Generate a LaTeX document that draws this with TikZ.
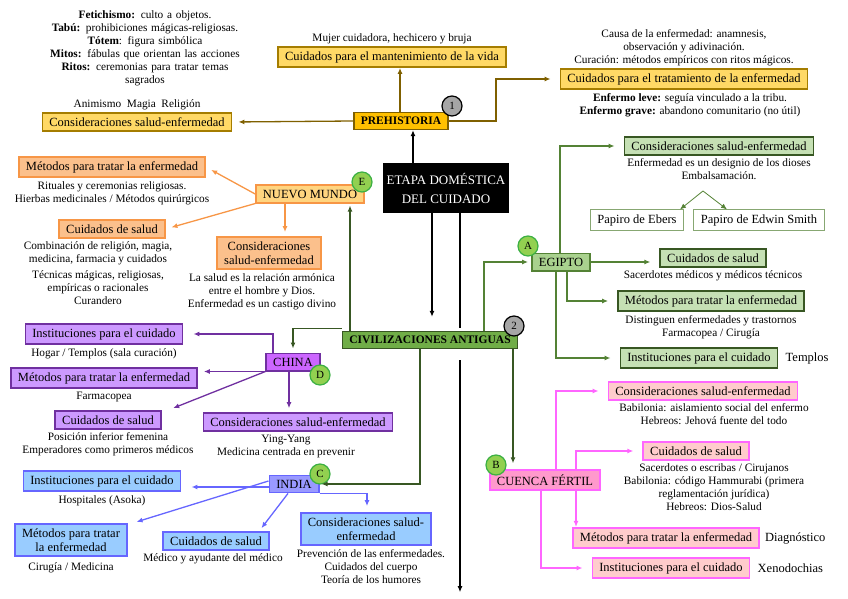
\documentclass[tikz,border=0pt]{standalone}
\usepackage{fontspec}
\setmainfont{Liberation Serif}
\usetikzlibrary{positioning,arrows.meta,calc}
\definecolor{preD}{HTML}{7F6000}
\definecolor{preF}{HTML}{FFC000}
\definecolor{preL}{HTML}{FFD966}
\definecolor{civD}{HTML}{385723}
\definecolor{civF}{HTML}{70AD47}
\definecolor{egF}{HTML}{C5E0B4}
\definecolor{egM}{HTML}{A9D18E}
\definecolor{egB}{HTML}{548235}
\definecolor{nmB}{HTML}{F79646}
\definecolor{nmF}{HTML}{FFD580}
\definecolor{nmL}{HTML}{FBC08C}
\definecolor{chB}{HTML}{7030A0}
\definecolor{chF}{HTML}{CC66FF}
\definecolor{chL}{HTML}{CC99FF}
\definecolor{inB}{HTML}{6666FF}
\definecolor{inF}{HTML}{9999FF}
\definecolor{inL}{HTML}{99CCFF}
\definecolor{cuB}{HTML}{FF66FF}
\definecolor{cuF}{HTML}{FF99CC}
\definecolor{cuL}{HTML}{FFCCCC}
\definecolor{bdgF}{HTML}{92D050}
\definecolor{bdgD}{HTML}{3CB043}
\begin{document}
\begin{tikzpicture}[x=1pt,y=-1pt,
        box/.style={draw=#1, line width=1.6pt, inner xsep=7pt, inner ysep=4.5pt, font=\fontsize{12.5}{14.5}\selectfont, align=center},
        note/.style={font=\fontsize{11.3}{13}\selectfont, align=center, inner sep=1pt},
        badge/.style={circle, draw, line width=1.2pt, minimum size=20pt, inner sep=0pt, font=\fontsize{11}{11}\selectfont},
        gbadge/.style={badge, fill=bdgF, draw=bdgD},
        ar/.style={-{Latex[length=6pt,width=5pt]}, line width=1.3pt, draw=#1}]
    \useasboundingbox (0,0) rectangle (848,599);

    % centre
    \node [fill=black, text=white, align=center, minimum width=124pt, minimum height=50pt,
           font=\fontsize{13}{19}\selectfont] (etapa) at (446,188) {ETAPA DOMÉSTICA\\DEL CUIDADO};

    % prehistoria
    \node [box=preD, fill=preF, font=\fontsize{11.5}{13}\selectfont\bfseries] (pre) at (401,121) {PREHISTORIA};
    \node [badge, fill=gray!70] (b1) at (452,106) {1};
    \node [box=preD!70!preF, fill=preL] (mant) at (392,57) {Cuidados para el mantenimiento de la vida};
    \node [note, above=1pt of mant] (mantn) {Mujer cuidadora, hechicero y bruja};
    \node [box=preD!70!preF, fill=preL] (prec) at (137,122) {Consideraciones salud-enfermedad};
    \node [note, above=1pt of prec] (precn) {Animismo\ \ Magia\ \ Religión};
    \node [note, text width=240pt] (pret) at (145,48) {\textbf{Fetichismo:} culto a objetos.\\
        \textbf{Tabú:} prohibiciones mágicas-religiosas.\\ \textbf{Tótem}: figura simbólica\\
        \textbf{Mitos:} fábulas que orientan las acciones\\ \textbf{Ritos:} ceremonias para tratar temas\\ sagrados};
    \node [box=preD!70!preF, fill=preL] (trat) at (684,79) {Cuidados para el tratamiento de la enfermedad};
    \node [note, above=1pt of trat] (tratn) {Causa de la enfermedad: anamnesis,\\ observación y adivinación.\\
        Curación: métodos empíricos con ritos mágicos.};
    \node [note, below=2pt of trat, xshift=6pt] (tratm) {\textbf{Enfermo leve:} seguía vinculado a la tribu.\\
        \textbf{Enfermo grave:} abandono comunitario (no útil)};
    \draw [ar=preD] ([xshift=-1pt]pre.north) -- ([xshift=-1pt]pre.north |- mant.south);
    \draw [ar=preD, shorten >=6pt] (pre.west) -- (prec.east);
    \draw [ar=preD, shorten >=9pt] (pre.east) -- ++(47,0) |- (trat.west);
    \draw [ar=black] ([xshift=-33pt]etapa.north) -- ([xshift=-33pt]etapa.north |- pre.south);

    % civilizaciones
    \node [box=civD, fill=civF, font=\fontsize{11.5}{13}\selectfont\bfseries] (civ) at (430,340) {CIVILIZACIONES ANTIGUAS};
    \node [badge, fill=gray!70] (b2) at (514,326) {2};
    \draw [ar=black, shorten >=14pt] ([xshift=-14pt]etapa.south) -- ([xshift=-14pt]etapa.south |- civ.north);
    \draw [line width=1.3pt] ([xshift=14pt]etapa.south) -- ++(0,115);
    \draw [ar=black] ([xshift=14pt]etapa.south) ++(0,147) -- ++(0,232);

    % egipto
    \node [box=egB, fill=egM] (eg) at (561,262) {EGIPTO};
    \node [gbadge] (bA) at (528,246) {A};
    \node [box=civD, fill=egF] (egc) at (719,146) {Consideraciones salud-enfermedad};
    \node [note, below=2pt of egc] (egcn) {Enfermedad es un designio de los dioses\\ Embalsamación.};
    \node [box=egB!70, line width=0.8pt, fill=white] (ebers) at (637,220) {Papiro de Ebers};
    \node [box=egB!70, line width=0.8pt, fill=white] (edwin) at (759,220) {Papiro de Edwin Smith};
    \coordinate (egsp) at (703,191);
    \draw [ar=egB, line width=0.8pt] (egsp) -- ([xshift=-4pt]ebers.north east);
    \draw [ar=egB, line width=0.8pt] (egsp) -- ([xshift=-32pt]edwin.north);
    \node [box=civD, fill=egF] (egs) at (713,258) {Cuidados de salud};
    \node [note, below=2pt of egs] (egsn) {Sacerdotes médicos y médicos técnicos};
    \node [box=civD, fill=egF] (egm) at (711,301) {Métodos para tratar la enfermedad};
    \node [note, below=2pt of egm] (egmn) {Distinguen enfermedades y trastornos\\ Farmacopea / Cirugía};
    \node [box=civD, fill=egF] (egi) at (699,358) {Instituciones para el cuidado};
    \node [note, font=\fontsize{12.5}{14}\selectfont, right=6pt of egi] (egin) {Templos};
    \draw [ar=egB, shorten >=9pt] ([xshift=-1pt]eg.north) |- (egc.west);
    \draw [ar=egB, shorten >=9pt] (eg.east) -- (eg.east -| egs.west);
    \draw [ar=egB, shorten >=9pt] ([xshift=6pt]eg.south) |- (egm.west);
    \draw [ar=egB, shorten >=9pt] ([xshift=-5pt]eg.south) |- (egi.west);
    \draw [ar=egB, shorten >=3pt] ([xshift=54pt]civ.north) |- (eg.west);

    % cuenca fertil
    \node [box=cuB, fill=cuF] (cu) at (545,480) {CUENCA FÉRTIL};
    \node [gbadge] (bB) at (496,465) {B};
    \node [box=cuB, fill=cuL] (cuc) at (703,391) {Consideraciones salud-enfermedad};
    \node [note, below=2pt of cuc, xshift=11pt] (cucn) {Babilonia: aislamiento social del enfermo\\ Hebreos: Jehová fuente del todo};
    \node [box=cuB, fill=cuL] (cus) at (696,451) {Cuidados de salud};
    \node [note, below=2pt of cus, xshift=18pt] (cusn) {Sacerdotes o escribas / Cirujanos\\
        Babilonia: código Hammurabi (primera\\ reglamentación jurídica)\\ Hebreos: Dios-Salud};
    \node [box=cuB, fill=cuL] (cum) at (666,538) {Métodos para tratar la enfermedad};
    \node [note, font=\fontsize{12.5}{14}\selectfont, right=4pt of cum] (cumn) {Diagnóstico};
    \node [box=cuB, fill=cuL] (cui) at (671,568) {Instituciones para el cuidado};
    \node [note, font=\fontsize{12.5}{14}\selectfont, right=6pt of cui] (cuin) {Xenodochias};
    \draw [ar=cuB, shorten >=9pt] ([xshift=11pt]cu.north) |- (cuc.west);
    \draw [ar=cuB, shorten >=9pt] ([xshift=31pt]cu.north) |- (cus.west);
    \draw [ar=cuB] ([xshift=31pt]cu.south) -- ([xshift=31pt]cu.south |- cum.north);
    \draw [ar=cuB, shorten >=9pt] ([xshift=-4pt]cu.south) |- (cui.west);
    \draw [ar=civD, shorten >=6pt] ([xshift=83pt]civ.south) -- ([xshift=83pt]civ.south |- cu.north);

    % nuevo mundo
    \node [box=nmB, fill=nmF] (nm) at (310,194) {NUEVO MUNDO};
    \node [gbadge] (bE) at (362,182) {E};
    \node [box=nmB, fill=nmL] (nmm) at (112,167) {Métodos para tratar la enfermedad};
    \node [note, below=2pt of nmm] (nmmn) {Rituales y ceremonias religiosas.\\ Hierbas medicinales / Métodos quirúrgicos};
    \node [box=nmB, fill=nmL] (nms) at (112,229) {Cuidados de salud};
    \node [note, below=2pt of nms, xshift=-14pt] (nmsn) {Combinación de religión, magia,\\ medicina, farmacia y cuidados\\[3pt]
        Técnicas mágicas, religiosas,\\ empíricas o racionales\\ Curandero};
    \node [box=nmB, fill=nmL] (nmc) at (269,253) {Consideraciones\\ salud-enfermedad};
    \node [note, below=2pt of nmc, xshift=-7pt] (nmcn) {La salud es la relación armónica\\ entre el hombre y Dios.\\ Enfermedad es un castigo divino};
    \draw [ar=nmB, shorten >=6pt] (nm.west) -- (nmm.east);
    \draw [ar=nmB, shorten >=6pt] (nm.south west) -- (nms.east);
    \draw [ar=nmB, shorten >=4pt] ([xshift=-25pt]nm.south) -- ([xshift=-25pt]nm.south |- nmc.north);
    \draw [ar=civD, shorten >=2pt] ([xshift=-80pt]civ.north) -- ([xshift=-80pt]civ.north |- nm.south);

    % china
    \node [box=chB, fill=chF] (ch) at (293,362) {CHINA};
    \node [gbadge] (bD) at (320,375) {D};
    \node [box=chB, fill=chL] (chi) at (104,334) {Instituciones para el cuidado};
    \node [note, below=2pt of chi] (chin) {Hogar / Templos (sala curación)};
    \node [box=chB, fill=chL] (chm) at (104,378) {Métodos para tratar la enfermedad};
    \node [note, below=2pt of chm] (chmn) {Farmacopea};
    \node [box=chB, fill=chL] (chs) at (108,420) {Cuidados de salud};
    \node [note, below=2pt of chs] (chsn) {Posición inferior femenina\\ Emperadores como primeros médicos};
    \node [box=chB, fill=chL] (chc) at (298,422) {Consideraciones salud-enfermedad};
    \node [note, below=2pt of chc, xshift=-12pt] (chcn) {Ying-Yang\\ Medicina centrada en prevenir};
    \draw [ar=chB, shorten >=10pt] ([xshift=-20pt]ch.north) |- (chi.east);
    \draw [ar=chB, shorten >=6pt] (ch.south west) -- (ch.south west -| chm.east);
    \draw [ar=chB, shorten >=6pt] (ch.south west) -- ([xshift=6pt]chs.north east);
    \draw [ar=chB, shorten >=4pt] ([xshift=-4pt]ch.south) -- ([xshift=-4pt]ch.south |- chc.north);
    \draw [ar=civD, shorten >=4pt] ([yshift=2pt]civ.north west) -| (ch.north);

    % india
    \node [box=inB, fill=inF] (in) at (294,484) {INDIA};
    \node [gbadge] (bC) at (320,474) {C};
    \node [box=inB, fill=inL] (ini) at (102,481) {Instituciones para el cuidado};
    \node [note, below=2pt of ini] (inin) {Hospitales (Asoka)};
    \node [box=inB, fill=inL] (inm) at (71,540) {Métodos para tratar\\ la enfermedad};
    \node [note, below=4pt of inm] (inmn) {Cirugía / Medicina};
    \node [box=inB, fill=inL] (ins) at (216,541) {Cuidados de salud};
    \node [note, below=2pt of ins, xshift=-3pt] (insn) {Médico y ayudante del médico};
    \node [box=inB, fill=inL] (inc) at (366,529) {Consideraciones salud-\\ enfermedad};
    \node [note, below=2pt of inc, xshift=5pt] (incn) {Prevención de las enfermedades.\\ Cuidados del cuerpo\\ Teoría de los humores};
    \draw [ar=inB, shorten >=10pt] ([yshift=-3pt]in.west) -- ([yshift=-3pt]in.west -| ini.east);
    \draw [ar=inB, shorten >=4pt] ([yshift=3pt]in.west) -- ([xshift=5pt]inm.north east);
    \draw [ar=inB, shorten >=4pt] ([xshift=-6pt]in.south) -- ([xshift=43pt]ins.north);
    \draw [ar=inB, shorten >=6pt] (in.south east) -| ([xshift=1pt]inc.north);
    \draw [ar=civD, shorten >=2pt] ([xshift=-10pt]civ.south) |- (in.east);
\end{tikzpicture}
\end{document}
